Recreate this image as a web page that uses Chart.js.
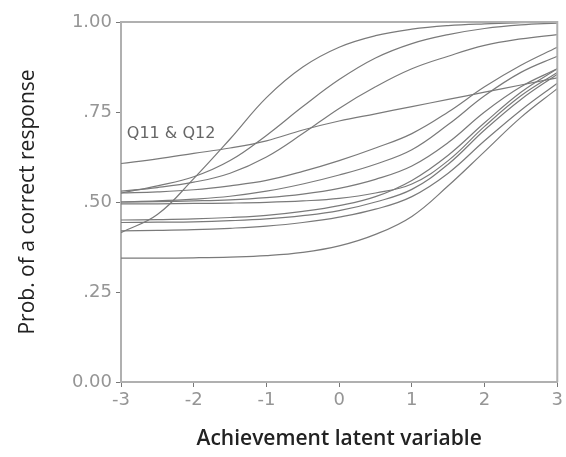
<!DOCTYPE html>
<html>
<head>
<meta charset="utf-8">
<script src="https://cdn.jsdelivr.net/npm/chart.js@4"></script>
<style>
  html, body { margin: 0; padding: 0; background: #fff; }
  #wrap { width: 566px; height: 457px; }
</style>
</head>
<body>
<div id="wrap"><canvas id="icc"></canvas></div>
<script>
const thetaPoints = [-3, -2.5, -2, -1.5, -1, -0.5, 0, 0.5, 1, 1.5, 2, 2.5, 3];
const xTicks = [-3, -2, -1, 0, 1, 2, 3];
const yTicks = [0, 0.25, 0.5, 0.75, 1];
const yTickLabels = ['0.00', '.25', '.50', '.75', '1.00'];

// item characteristic curves (probability of a correct response)
const itemA = [0.415, 0.465, 0.565, 0.675, 0.79, 0.875, 0.93, 0.962, 0.98, 0.99, 0.995, 0.998, 1.0];
const itemB = [0.525, 0.545, 0.57, 0.615, 0.685, 0.765, 0.84, 0.9, 0.94, 0.965, 0.982, 0.992, 0.997];
const itemC = [0.53, 0.54, 0.555, 0.58, 0.625, 0.69, 0.76, 0.82, 0.87, 0.905, 0.935, 0.953, 0.965];
const itemQ11Q12 = [0.607, 0.62, 0.635, 0.65, 0.67, 0.7, 0.725, 0.745, 0.765, 0.785, 0.805, 0.825, 0.845];
const itemD = [0.525, 0.528, 0.534, 0.545, 0.56, 0.585, 0.615, 0.65, 0.69, 0.75, 0.82, 0.88, 0.93];
const itemE = [0.5, 0.503, 0.508, 0.516, 0.53, 0.55, 0.575, 0.605, 0.645, 0.715, 0.795, 0.86, 0.905];
const itemF = [0.5, 0.501, 0.503, 0.506, 0.512, 0.522, 0.538, 0.563, 0.6, 0.665, 0.75, 0.82, 0.87];
const itemG = [0.495, 0.495, 0.496, 0.497, 0.499, 0.503, 0.51, 0.525, 0.55, 0.615, 0.71, 0.795, 0.86];
const itemH = [0.45, 0.451, 0.453, 0.457, 0.463, 0.474, 0.49, 0.515, 0.56, 0.63, 0.72, 0.805, 0.87];
const itemI = [0.443, 0.444, 0.445, 0.448, 0.453, 0.462, 0.476, 0.5, 0.535, 0.605, 0.7, 0.785, 0.855];
const itemJ = [0.42, 0.421, 0.423, 0.427, 0.433, 0.443, 0.458, 0.48, 0.515, 0.58, 0.67, 0.755, 0.83];
const itemK = [0.344, 0.344, 0.345, 0.347, 0.351, 0.36, 0.378, 0.41, 0.46, 0.545, 0.64, 0.735, 0.815];

const curves = [itemA, itemB, itemC, itemQ11Q12, itemD, itemE, itemF, itemG, itemH, itemI, itemJ, itemK];

// label placed next to the Q11 & Q12 curve
const curveLabel = { text: 'Q11 & Q12', x: -2.92, y: 0.69 };

const tickFont = { family: 'DejaVu Sans', size: 18 };
const tickColor = '#959595';
const frameColor = '#b0b0b0';

// draws the curve label and the top/right frame
const extrasPlugin = {
    id: 'extras',
    afterDatasetsDraw(chart) {
        const { ctx, chartArea, scales } = chart;
        ctx.save();
        ctx.strokeStyle = frameColor;
        ctx.lineWidth = 2;
        ctx.beginPath();
        ctx.moveTo(chartArea.left, chartArea.top);
        ctx.lineTo(chartArea.right, chartArea.top);
        ctx.lineTo(chartArea.right, chartArea.bottom);
        ctx.stroke();

        ctx.fillStyle = '#666';
        ctx.font = '16px "DejaVu Sans"';
        ctx.textBaseline = 'middle';
        ctx.textAlign = 'left';
        ctx.fillText(curveLabel.text, scales.x.getPixelForValue(curveLabel.x), scales.y.getPixelForValue(curveLabel.y));
        ctx.restore();
    }
};

const datasets = curves.map(values => ({
    data: thetaPoints.map((t, i) => ({ x: t, y: values[i] })),
    borderColor: '#7a7a7a',
    borderWidth: 1.2,
    pointRadius: 0,
    fill: false,
    tension: 0.4
}));

new Chart(document.getElementById('icc'), {
    type: 'line',
    data: { datasets },
    options: {
        responsive: true,
        maintainAspectRatio: false,
        animation: false,
        layout: { padding: { top: 22, right: 4, left: 0, bottom: 0 } },
        plugins: { legend: { display: false }, tooltip: { enabled: false } },
        scales: {
            x: {
                type: 'linear',
                min: -3,
                max: 3,
                afterBuildTicks: scale => { scale.ticks = xTicks.map(v => ({ value: v })); },
                afterFit: scale => { scale.height = 75; },
                border: { color: frameColor, width: 2 },
                grid: { drawOnChartArea: false, tickLength: 5, color: '#777' },
                ticks: {
                    color: tickColor,
                    font: tickFont,
                    padding: 3,
                    maxRotation: 0,
                    callback: v => String(v)
                },
                title: {
                    display: true,
                    text: 'Achievement latent variable',
                    color: '#222',
                    font: { family: 'Open Sans', size: 21, weight: '600' },
                    padding: { top: 0, bottom: 5 }
                }
            },
            y: {
                min: 0,
                max: 1,
                afterBuildTicks: scale => { scale.ticks = yTicks.map(v => ({ value: v })); },
                afterFit: scale => { scale.width = 121; },
                border: { color: frameColor, width: 2 },
                grid: { drawOnChartArea: false, tickLength: 5, color: '#777' },
                ticks: {
                    color: tickColor,
                    font: tickFont,
                    padding: 4,
                    callback: (v) => yTickLabels[yTicks.indexOf(v)]
                },
                title: {
                    display: true,
                    text: 'Prob. of a correct response',
                    color: '#222',
                    font: { family: 'Open Sans', size: 21, weight: 'normal' },
                    padding: { top: 15, bottom: 0 }
                }
            }
        }
    },
    plugins: [extrasPlugin]
});
</script>
</body>
</html>
